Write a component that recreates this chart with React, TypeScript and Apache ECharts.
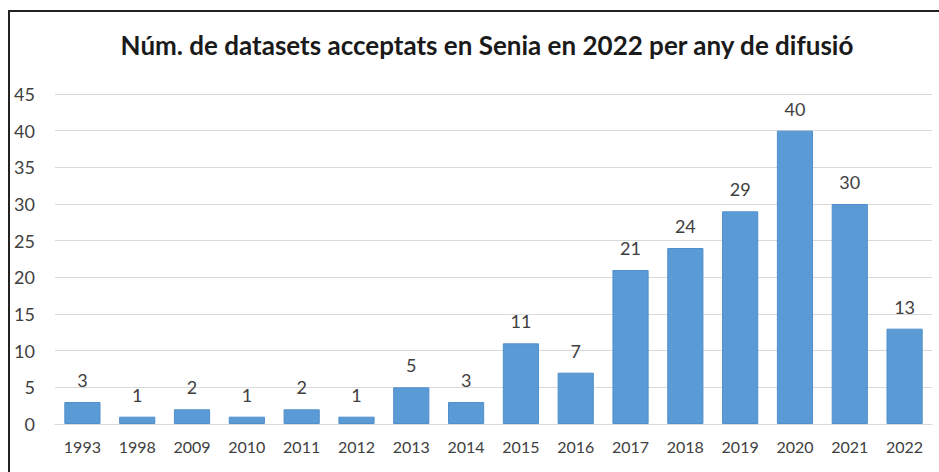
import React, { useEffect, useRef } from "react";
import * as echarts from "echarts";

const years = ["1993", "1998", "2009", "2010", "2011", "2012", "2013", "2014", "2015", "2016", "2017", "2018", "2019", "2020", "2021", "2022"];
const counts = [3, 1, 2, 1, 2, 1, 5, 3, 11, 7, 21, 24, 29, 40, 30, 13];
const titleText = "Núm. de datasets acceptats en Senia en 2022 per any de difusió";

export default function App() {
  const ref = useRef<HTMLDivElement>(null);
  useEffect(() => {
    const chart = echarts.init(ref.current!, null, { renderer: "svg" });
    chart.setOption({
      animation: false,
      backgroundColor: "#ffffff",
      textStyle: { fontFamily: "Lato" },
      graphic: [
        {
          type: "rect",
          shape: { x: 9, y: 11, width: 960, height: 500 },
          style: { fill: "none", stroke: "#222222", lineWidth: 2 },
        },
        {
          type: "text",
          x: 487,
          y: 45,
          style: {
            text: titleText,
            fontFamily: "Lato",
            fontWeight: "bold",
            fontSize: 26,
            fill: "#1a1a1a",
            textAlign: "center",
            textVerticalAlign: "middle",
          },
        },
      ],
      grid: { left: 55, right: 7, top: 94, bottom: 48, containLabel: false },
      xAxis: {
        type: "category",
        data: years,
        axisLine: { show: true, lineStyle: { color: "#d9d9d9", width: 1 } },
        axisTick: { show: false },
        axisLabel: { color: "#404040", fontSize: 16, margin: 14, fontFamily: "Lato" },
      },
      yAxis: {
        type: "value",
        min: 0,
        max: 45,
        interval: 5,
        axisLine: { show: false },
        axisTick: { show: false },
        splitLine: { lineStyle: { color: "#d9d9d9", width: 1 } },
        axisLabel: { color: "#404040", fontSize: 18, margin: 20, fontFamily: "Lato" },
      },
      series: [
        {
          type: "bar",
          data: counts,
          barCategoryGap: "34%",
          itemStyle: { color: "#5B9BD5", borderColor: "#4f8fcb", borderWidth: 1 },
          label: {
            show: true,
            position: "top",
            distance: 13,
            color: "#404040",
            fontSize: 18,
            fontFamily: "Lato",
          },
        },
      ],
    });
    return () => chart.dispose();
  }, []);
  return (
    <div
      ref={ref}
      style={{ position: "absolute", left: 0, top: 0, width: 939, height: 472 }}
    />
  );
}
